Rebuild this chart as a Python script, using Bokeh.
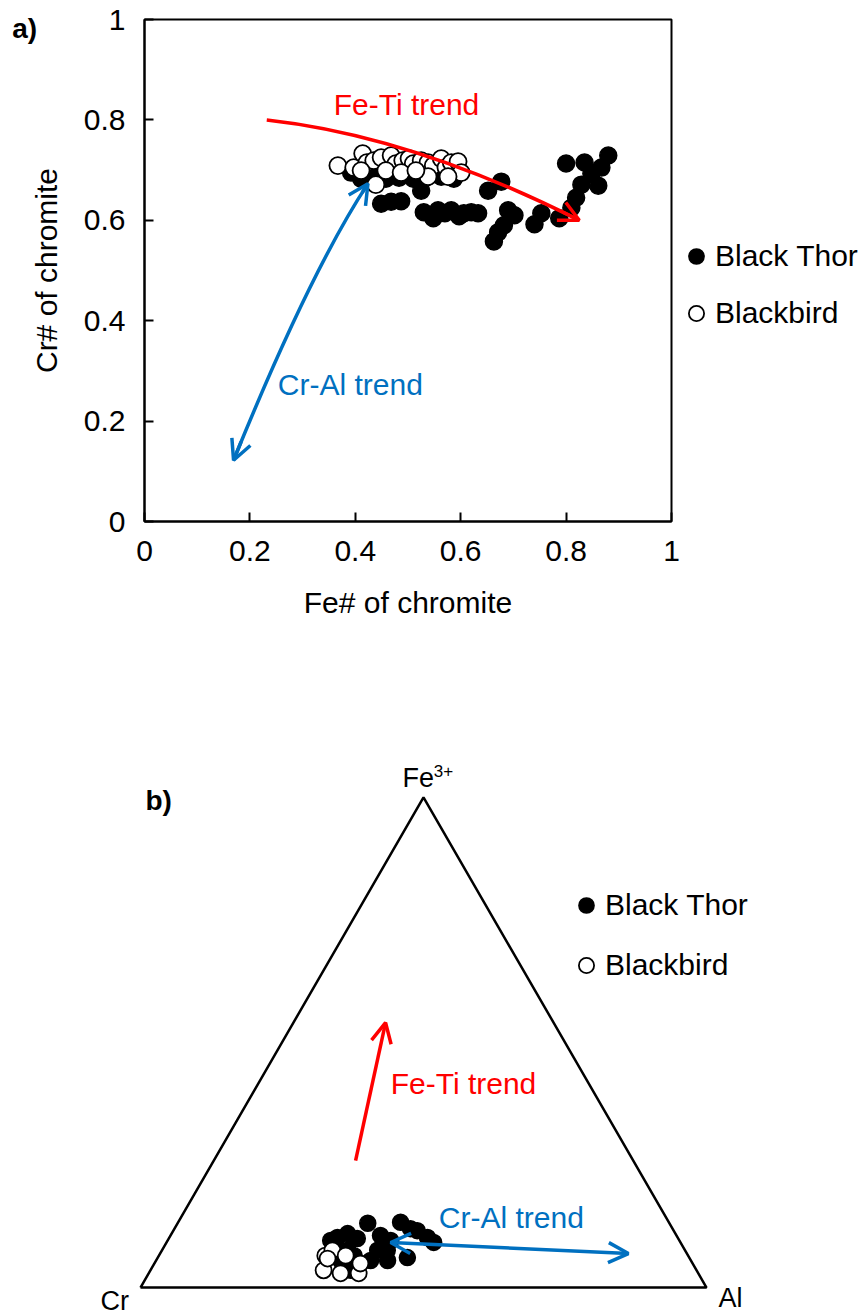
import numpy as np
from bokeh.plotting import figure
from bokeh.models import (Range1d, FixedTicker, Legend, LegendItem, Arrow,
                          OpenHead, Label)
from bokeh.embed import file_html
from bokeh.resources import INLINE

FONT = "Liberation Sans"
RED = "#FF0000"
BLUE = "#0070C0"

# ---------------- a) Fe# vs Cr# of chromite ----------------
tick_values = [0, 0.2, 0.4, 0.6, 0.8, 1.0]
tick_labels = ["0", "0.2", "0.4", "0.6", "0.8", "1"]

black_thor_fe = [0.392, 0.411, 0.433, 0.458, 0.483, 0.510, 0.534, 0.563, 0.587,
                 0.525, 0.449, 0.468, 0.487, 0.530, 0.557, 0.582, 0.606, 0.633,
                 0.548, 0.597, 0.652, 0.677, 0.690, 0.702, 0.682, 0.671, 0.663,
                 0.740, 0.753, 0.787, 0.810, 0.819, 0.829, 0.861, 0.848, 0.867,
                 0.880, 0.835, 0.800, 0.620, 0.570]
black_thor_cr = [0.695, 0.683, 0.687, 0.683, 0.685, 0.683, 0.685, 0.687, 0.683,
                 0.659, 0.633, 0.637, 0.638, 0.616, 0.620, 0.620, 0.614, 0.614,
                 0.604, 0.608, 0.659, 0.677, 0.620, 0.610, 0.590, 0.576, 0.558,
                 0.592, 0.614, 0.604, 0.625, 0.645, 0.671, 0.669, 0.693, 0.705,
                 0.729, 0.715, 0.713, 0.616, 0.614]

blackbird_fe = [0.367, 0.397, 0.414, 0.422, 0.435, 0.449, 0.468, 0.477, 0.490,
                0.502, 0.510, 0.525, 0.538, 0.548, 0.563, 0.572, 0.582, 0.595,
                0.601, 0.439, 0.538, 0.576, 0.411, 0.458, 0.487, 0.515]
blackbird_cr = [0.709, 0.705, 0.733, 0.715, 0.719, 0.725, 0.729, 0.713, 0.719,
                0.723, 0.713, 0.719, 0.715, 0.709, 0.723, 0.705, 0.715, 0.717,
                0.695, 0.671, 0.687, 0.687, 0.699, 0.699, 0.695, 0.699]

# trend curves as quadratic Bezier (start, control, end)
feti_curve = dict(x0=0.232, y0=0.800, cx=0.508, cy=0.768, x1=0.825, y1=0.600)
cral_curve = dict(x0=0.169, y0=0.122, cx=0.314, cy=0.497, x1=0.424, y1=0.673)

# ---------------- b) Cr - Al - Fe3+ ternary ----------------
tern_thor_cr = [0.533, 0.474, 0.463, 0.442, 0.436, 0.453, 0.523, 0.510, 0.543,
                0.536, 0.498, 0.566, 0.601, 0.579, 0.567, 0.614, 0.596, 0.596,
                0.611, 0.526, 0.619, 0.615, 0.616, 0.590]
tern_thor_al = [0.336, 0.393, 0.417, 0.456, 0.472, 0.431, 0.371, 0.394, 0.381,
                0.409, 0.441, 0.379, 0.297, 0.311, 0.333, 0.296, 0.328, 0.349,
                0.354, 0.398, 0.326, 0.340, 0.288, 0.345]
tern_thor_fe = [0.131, 0.133, 0.120, 0.102, 0.092, 0.116, 0.106, 0.096, 0.076,
                0.055, 0.061, 0.055, 0.102, 0.110, 0.100, 0.090, 0.076, 0.055,
                0.035, 0.076, 0.055, 0.045, 0.096, 0.065]

tern_bird_cr = [0.641, 0.659, 0.600, 0.587, 0.623, 0.632, 0.640, 0.605]
tern_bird_al = [0.294, 0.306, 0.371, 0.364, 0.301, 0.339, 0.301, 0.330]
tern_bird_fe = [0.065, 0.035, 0.029, 0.049, 0.076, 0.029, 0.059, 0.065]


def bezier(t, c):
    x = (1 - t) ** 2 * c["x0"] + 2 * t * (1 - t) * c["cx"] + t ** 2 * c["x1"]
    y = (1 - t) ** 2 * c["y0"] + 2 * t * (1 - t) * c["cy"] + t ** 2 * c["y1"]
    return x, y


def ternary_xy(cr, al, fe):
    cr, al, fe = (np.asarray(a, dtype=float) for a in (cr, al, fe))
    s = cr + al + fe
    return (al + fe / 2) / s, fe * np.sqrt(3) / 2 / s


def head(color):
    return OpenHead(size=20, line_color=color, line_width=3.5)


def text(x, y, s, color="black", size="30px", style="normal"):
    return Label(x=x, y=y, text=s, text_color=color, text_font=FONT,
                 text_font_size=size, text_font_style=style,
                 text_baseline="middle", text_align="left")


def legend(items, loc, spacing):
    return Legend(items=items, location=loc, orientation="vertical",
                  glyph_width=38, glyph_height=42, label_standoff=0,
                  spacing=spacing, padding=0, margin=0,
                  border_line_color=None, background_fill_alpha=0,
                  label_text_font=FONT, label_text_font_size="30px",
                  label_text_color="black")


# ---------------- figure a ----------------
pa = figure(frame_width=527, frame_height=502,
            x_range=Range1d(0, 1), y_range=Range1d(0, 1),
            output_backend="svg", toolbar_location=None,
            min_border_left=144, min_border_right=195,
            min_border_top=19, min_border_bottom=129)
pa.xgrid.visible = False
pa.ygrid.visible = False
pa.outline_line_color = "black"
pa.outline_line_width = 2
pa.outline_line_alpha = 1

for ax in (pa.xaxis[0], pa.yaxis[0]):
    ax.ticker = FixedTicker(ticks=tick_values)
    ax.major_label_overrides = {v: l for v, l in zip(tick_values, tick_labels)}
    ax.major_tick_in = 9
    ax.major_tick_out = 0
    ax.minor_tick_in = 0
    ax.minor_tick_out = 0
    ax.axis_line_width = 2
    ax.major_tick_line_width = 2
    ax.major_label_text_font = FONT
    ax.major_label_text_font_size = "30px"
    ax.major_label_text_color = "black"
    ax.axis_label_text_font = FONT
    ax.axis_label_text_font_size = "30px"
    ax.axis_label_text_font_style = "normal"
    ax.axis_label_text_color = "black"
    ax.major_label_standoff = 19
pa.xaxis.axis_label_standoff = 22
pa.yaxis.axis_label_standoff = 18
pa.xaxis.axis_label = "Fe# of chromite"
pa.yaxis.axis_label = "Cr# of chromite"

r_thor = pa.scatter(black_thor_fe, black_thor_cr, size=17, marker="circle",
                    fill_color="black", line_color="black", line_width=1.5)
r_bird = pa.scatter(blackbird_fe, blackbird_cr, size=17, marker="circle",
                    fill_color="white", line_color="black", line_width=1.8)

# Fe-Ti trend (red) with single head
pa.quadratic(**feti_curve, line_color=RED, line_width=3.5)
sx, sy = bezier(0.95, feti_curve)
pa.add_layout(Arrow(end=head(RED), x_start=sx, y_start=sy,
                    x_end=feti_curve["x1"], y_end=feti_curve["y1"],
                    line_color=RED, line_width=3.5))

# Cr-Al trend (blue) with heads at both ends
pa.quadratic(**cral_curve, line_color=BLUE, line_width=3.5)
sx, sy = bezier(0.95, cral_curve)
pa.add_layout(Arrow(end=head(BLUE), x_start=sx, y_start=sy,
                    x_end=cral_curve["x1"], y_end=cral_curve["y1"],
                    line_color=BLUE, line_width=3.5))
sx, sy = bezier(0.05, cral_curve)
pa.add_layout(Arrow(end=head(BLUE), x_start=sx, y_start=sy,
                    x_end=cral_curve["x0"], y_end=cral_curve["y0"],
                    line_color=BLUE, line_width=3.5))

pa.add_layout(text(0.359, 0.830, "Fe-Ti trend", RED))
pa.add_layout(text(0.253, 0.272, "Cr-Al trend", BLUE))
pa.add_layout(text(-0.251, 0.982, "a)", size="28px", style="bold"), "left")

pa.add_layout(legend([LegendItem(label="Black Thor", renderers=[r_thor]),
                      LegendItem(label="Blackbird", renderers=[r_bird])],
                     (6, 187), 15), "right")

# ---------------- figure b ----------------
SIDE = 566.0
pb = figure(width=866, height=666,
            x_range=Range1d(-140 / SIDE, 726 / SIDE),
            y_range=Range1d(-29 / SIDE, 637 / SIDE),
            x_axis_type=None, y_axis_type=None,
            output_backend="svg", toolbar_location=None, min_border=0)
pb.outline_line_color = None

# triangle frame from the three pure end-members
corner_cr = [1, 0, 0, 1]
corner_al = [0, 1, 0, 0]
corner_fe = [0, 0, 1, 0]
tu, tv = ternary_xy(corner_cr, corner_al, corner_fe)
pb.line(tu, tv, line_color="black", line_width=2.5)

u, v = ternary_xy(tern_thor_cr, tern_thor_al, tern_thor_fe)
rb_thor = pb.scatter(u, v, size=16, marker="circle", fill_color="black",
                     line_color="black", line_width=1.5)
u, v = ternary_xy(tern_bird_cr, tern_bird_al, tern_bird_fe)
rb_bird = pb.scatter(u, v, size=16, marker="circle", fill_color="white",
                     line_color="black", line_width=1.8)

pb.add_layout(Arrow(end=head(RED), x_start=0.380, y_start=0.224,
                    x_end=0.433, y_end=0.468, line_color=RED, line_width=3.5))
pb.add_layout(Arrow(start=head(BLUE), end=head(BLUE),
                    x_start=0.442, y_start=0.0795, x_end=0.862, y_end=0.060,
                    line_color=BLUE, line_width=3.5))

pb.add_layout(text(0.442, 0.361, "Fe-Ti trend", RED))
pb.add_layout(text(0.527, 0.123, "Cr-Al trend", BLUE))
pb.add_layout(text(0.463, 0.900, "Fe", size="27px"))
pb.add_layout(text(0.518, 0.913, "3+", size="17px"))
pb.add_layout(text(-0.0707, -0.024, "Cr", size="27px"))
pb.add_layout(text(1.021, -0.019, "Al", size="27px"))
pb.add_layout(text(0.0088, 0.860, "b)", size="28px", style="bold"))

pb.add_layout(legend([LegendItem(label="Black Thor", renderers=[rb_thor]),
                      LegendItem(label="Blackbird", renderers=[rb_bird])],
                     (567, 330), 18))

# two independent roots, stacked in the page
open("out.html", "w").write(file_html([pa, pb], INLINE))
